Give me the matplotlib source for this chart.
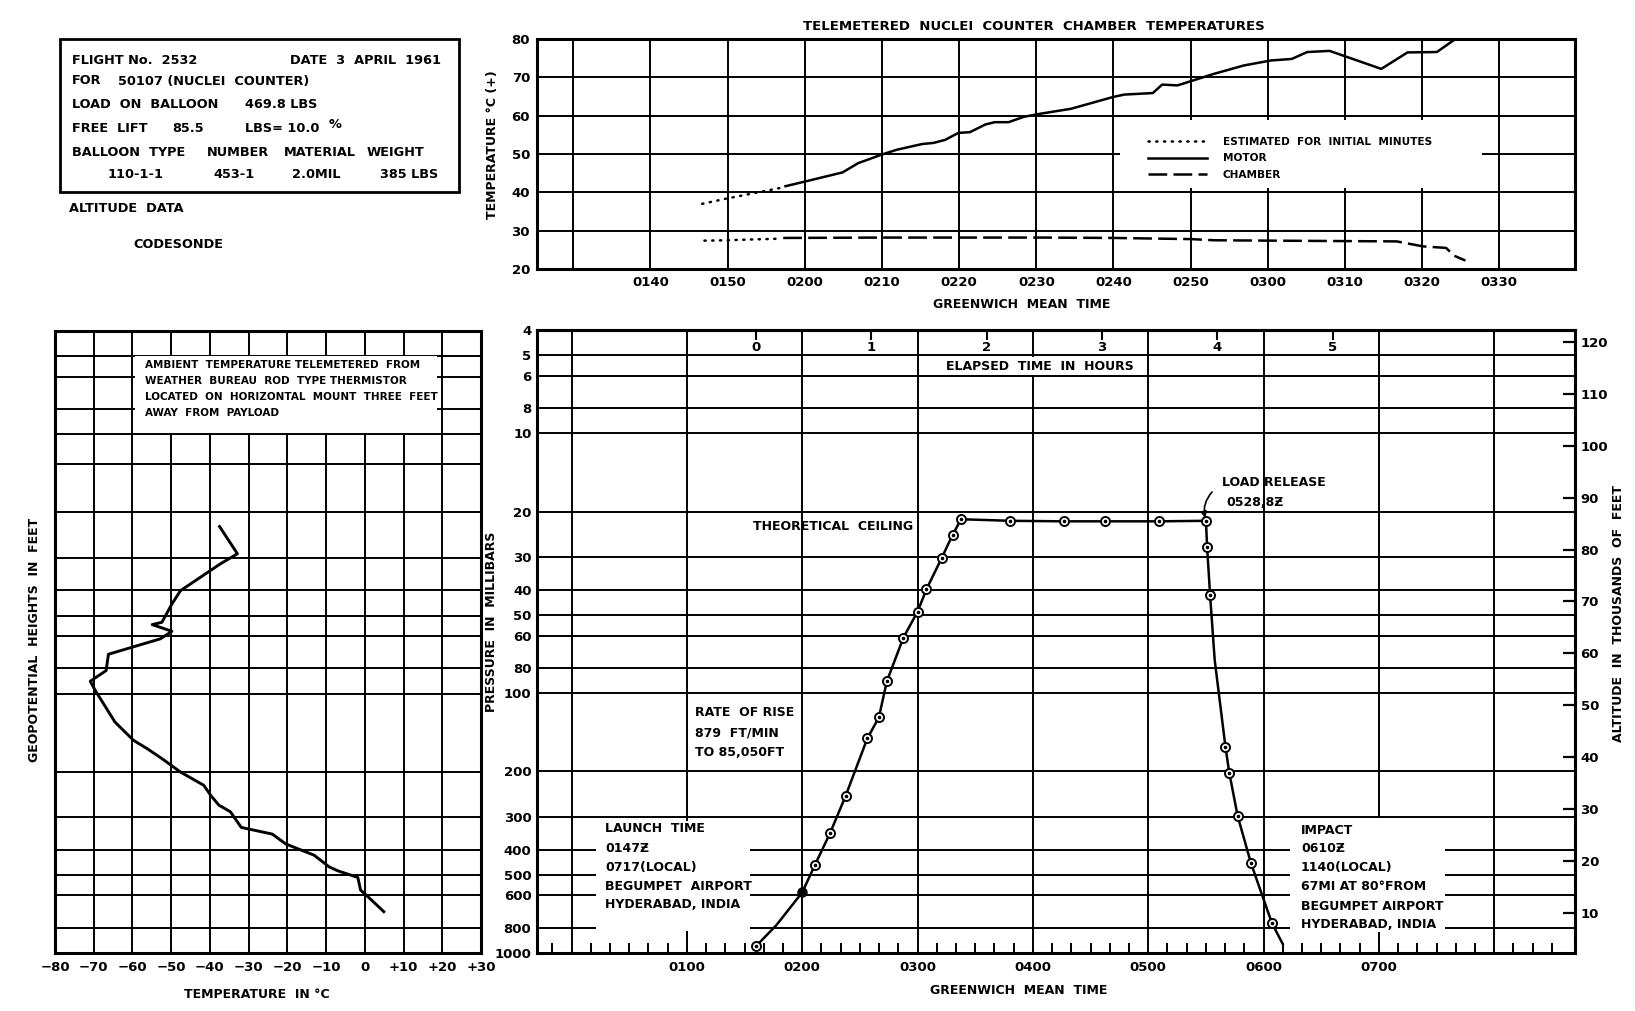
import matplotlib
matplotlib.use("Agg")
import matplotlib.pyplot as plt
from matplotlib.patches import Rectangle
from matplotlib.ticker import FixedLocator, FixedFormatter, NullLocator
import numpy as np

W, H = 1635, 1011
plt.rcParams['font.family'] = ['DejaVu Sans']
plt.rcParams['font.weight'] = 'bold'

# ---------------- data ----------------
# top chart: minutes after 00:00 GMT, temperature deg C
motor_est_t = [106.7, 109.7, 113.2, 116.7, 117.5]
motor_est_v = [37.0, 38.3, 39.7, 41.1, 41.6]
motor_t = [117.5, 120.2, 124.9, 126.9, 129.9, 131.9, 135.2, 136.7, 138.2, 139.9, 141.4,
           143.4, 144.6, 146.4, 148.4, 150.2, 154.5, 160.0, 161.4, 165.1, 166.3, 168.3,
           173.0, 176.9, 180.4, 183.1, 185.1, 188.0, 194.7, 198.1, 201.9, 204.8]
motor_v = [41.6, 42.9, 45.2, 47.6, 49.8, 51.1, 52.6, 52.9, 53.7, 55.5, 55.7,
           57.7, 58.3, 58.3, 59.7, 60.4, 61.8, 64.9, 65.5, 65.9, 68.1, 67.9,
           70.9, 73.1, 74.4, 74.8, 76.6, 76.9, 72.2, 76.5, 76.6, 80.7]
chamber_est_t = [107.0, 110.0, 113.0, 116.7]
chamber_est_v = [27.4, 27.5, 27.7, 27.9]
chamber_t = [117.2, 130.0, 150.8, 160.0, 170.0, 173.0, 180.0, 196.7, 200.1, 203.1, 204.1, 205.6]
chamber_v = [28.1, 28.2, 28.2, 28.1, 27.8, 27.5, 27.4, 27.2, 25.9, 25.5, 23.5, 22.2]
top_grid_minutes = [90, 100, 110, 120, 130, 140, 150, 160, 170, 180, 190, 200, 210]
top_tick_labels = ["", "0140", "0150", "0200", "0210", "0220", "0230", "0240",
                   "0250", "0300", "0310", "0320", "0330"]
top_yticks = [20, 30, 40, 50, 60, 70, 80]

# left chart: ambient temperature profile (deg C vs pressure mb)
amb_temp = [-37.5, -32.9, -37.3, -47.6, -49.8, -52.4, -54.9, -49.8, -52.8, -66.2, -66.8,
            -70.9, -69.6, -64.5, -59.7, -56.2, -52.4, -47.6, -41.6, -39.8, -37.7, -34.7,
            -31.9, -23.9, -20.4, -13.1, -9.2, -7.0, -1.8, -1.1, 0.8, 4.9]
amb_pres = [22.7, 28.9, 31.6, 40.1, 45.1, 53.1, 54.2, 57.5, 61.5, 70.5, 81.5,
            89.6, 97.3, 128.8, 151.5, 163, 178, 200.6, 225.6, 246.6, 269, 285.6,
            328, 348, 380, 419.6, 465.6, 482, 511.4, 572, 606.5, 693]
temp_ticks = [-80, -70, -60, -50, -40, -30, -20, -10, 0, 10, 20, 30]
temp_labels = ["\u221280", "\u221270", "\u221260", "\u221250", "\u221240", "\u221230",
               "\u221220", "\u221210", "0", "+10", "+20", "+30"]
left_levels = [4, 5, 6, 8, 10, 13, 20, 30, 40, 50, 60, 80, 100, 200, 300, 400, 500, 600, 800, 1000]

# main chart: flight profile (GMT hours, pressure mb)
pres_ticks = [4, 5, 6, 8, 10, 20, 30, 40, 50, 60, 80, 100, 200, 300, 400, 500, 600, 800, 1000]
pres_labels = [str(p) for p in pres_ticks]
obs_time = [1.60, 2.110, 2.243, 2.375, 2.565, 2.664, 2.734, 2.877, 3.0, 3.077, 3.21,
            3.303, 3.377, 3.8, 4.266, 4.628, 5.089, 5.50, 5.51, 5.536, 5.669, 5.702,
            5.775, 5.891, 6.073]
obs_pres = [940, 458, 344, 249, 149, 124, 89.8, 61.1, 48.5, 39.8, 30.1,
            24.6, 21.4, 21.7, 21.8, 21.8, 21.8, 21.7, 27.3, 41.9, 160.6, 202,
            297, 452, 769]
fix_time = [2.0]
fix_pres = [584]
path_time = [1.60, 1.777, 2.0, 2.110, 2.243, 2.375, 2.565, 2.664, 2.734, 2.877, 3.0, 3.077,
             3.21, 3.303, 3.377, 3.8, 4.266, 4.628, 5.089, 5.50, 5.51, 5.536, 5.576, 5.669,
             5.702, 5.775, 5.891, 6.073, 6.166]
path_pres = [940, 780, 584, 458, 344, 249, 149, 124, 89.8, 61.1, 48.5, 39.8,
             30.1, 24.6, 21.4, 21.7, 21.8, 21.8, 21.8, 21.7, 27.3, 41.9, 74.5, 160.6,
             202, 297, 452, 769, 923]
gmt_hours = [0, 1, 2, 3, 4, 5, 6, 7, 8]
gmt_labels = ["", "0100", "0200", "0300", "0400", "0500", "0600", "0700", ""]
elapsed_ticks = [0, 1, 2, 3, 4, 5]
elapsed_offset = 1.60
alt_ticks = [10, 20, 30, 40, 50, 60, 70, 80, 90, 100, 110, 120]

# ---------------- helpers ----------------
fig = plt.figure(figsize=(W / 100, H / 100), dpi=100)


def P(x, y):
    return (x / W, 1 - y / H)


def box(x0, y0, x1, y1):
    return [x0 / W, 1 - y1 / H, (x1 - x0) / W, (y1 - y0) / H]


def ftext(x, y, s, size=8.5, ha='left', va='center', rot=0, bg=False, **kw):
    bb = dict(facecolor='white', edgecolor='none', pad=1.5) if bg else None
    return fig.text(*P(x, y), s, fontsize=size, ha=ha, va=va, rotation=rot,
                    fontweight='bold', bbox=bb, zorder=6, **kw)


def white_rect(ax, x0, y0, x1, y1):
    r = Rectangle(P(x0, y1), (x1 - x0) / W, (y1 - y0) / H, transform=fig.transFigure,
                  facecolor='white', edgecolor='none', zorder=2.5, clip_on=False)
    ax.add_patch(r)


GRID = dict(color='black', lw=1.4)
SPINE = 2.2
LW = 1.8

# ---------------- info box ----------------
fig.add_artist(Rectangle(P(60, 192), 399 / W, 153 / H, transform=fig.transFigure,
                         fill=False, lw=2, edgecolor='black'))
IS = 9.3
ftext(72, 61, "FLIGHT No.  2532", IS)
ftext(290, 61, "DATE  3  APRIL  1961", IS)
ftext(72, 81, "FOR", IS)
ftext(118, 81, "50107 (NUCLEI  COUNTER)", IS)
ftext(72, 105, "LOAD  ON  BALLOON", IS)
ftext(245, 105, "469.8 LBS", IS)
ftext(72, 129, "FREE  LIFT", IS)
ftext(172, 129, "85.5", IS)
ftext(245, 129, "LBS= 10.0", IS)
ftext(329, 124, "%", IS)
ftext(72, 152, "BALLOON  TYPE", IS)
ftext(207, 152, "NUMBER", IS)
ftext(284, 152, "MATERIAL", IS)
ftext(367, 152, "WEIGHT", IS)
ftext(108, 174, "110-1-1", IS)
ftext(213, 174, "453-1", IS)
ftext(292, 174, "2.0MIL", IS)
ftext(380, 174, "385 LBS", IS)
ftext(69, 208, "ALTITUDE  DATA", IS)
ftext(133, 245, "CODESONDE", IS)

# ---------------- top chart ----------------
axt = fig.add_axes(box(537, 39, 1575, 269))
axt.plot(motor_est_t, motor_est_v, color='black', lw=LW, ls=(0, (0.5, 2.6)),
         dash_capstyle='round', label="ESTIMATED  FOR  INITIAL  MINUTES", zorder=4)
axt.plot(motor_t, motor_v, color='black', lw=LW, label="MOTOR", zorder=4)
axt.plot(chamber_est_t, chamber_est_v, color='black', lw=LW, ls=(0, (0.5, 2.6)),
         dash_capstyle='round', zorder=4)
axt.plot(chamber_t, chamber_v, color='black', lw=LW, ls=(0, (7.5, 2.5)),
         label="CHAMBER", zorder=4)
axt.set_xlim(85.3, 219.8)
axt.set_ylim(20, 80)
axt.xaxis.set_major_locator(FixedLocator(top_grid_minutes))
axt.xaxis.set_major_formatter(FixedFormatter(top_tick_labels))
axt.set_yticks(top_yticks)
axt.tick_params(length=0, labelsize=9.5, pad=5)
axt.grid(True, **GRID)
for s in axt.spines.values():
    s.set_linewidth(SPINE)
white_rect(axt, 1120, 120, 1482, 188)
leg = axt.legend(loc='upper left', bbox_to_anchor=((1148 - 537) / 1038, (269 - 137) / 230),
                 frameon=False, fontsize=7.6, handlelength=5.6, handletextpad=1.5,
                 labelspacing=0.6, borderpad=0, borderaxespad=0)
leg.set_zorder(6)
ftext(1034, 26, "TELEMETERED  NUCLEI  COUNTER  CHAMBER  TEMPERATURES", 9.5, ha='center')
ftext(1022, 304, "GREENWICH  MEAN  TIME", 9, ha='center')
ftext(492, 145, "TEMPERATURE \u00b0C (+)", 9, ha='center', rot=90)

# ---------------- left chart ----------------
axl = fig.add_axes(box(55, 331, 481, 953))
axl.plot(amb_temp, amb_pres, color='black', lw=LW + 0.3, zorder=4)
axl.set_yscale('log')
axl.set_ylim(1000, 4)
axl.set_xlim(-80, 30)
axl.yaxis.set_major_locator(FixedLocator(left_levels))
axl.yaxis.set_minor_locator(NullLocator())
axl.set_yticklabels([])
axl.xaxis.set_major_locator(FixedLocator(temp_ticks))
axl.xaxis.set_major_formatter(FixedFormatter(temp_labels))
axl.tick_params(length=0, labelsize=9.5, pad=6)
axl.tick_params(axis='y', which='both', length=0, labelleft=False)
axl.grid(True, **GRID)
for s in axl.spines.values():
    s.set_linewidth(SPINE)
white_rect(axl, 135, 356, 437, 433)
for i, line in enumerate(["AMBIENT  TEMPERATURE TELEMETERED  FROM",
                          "WEATHER  BUREAU  ROD  TYPE THERMISTOR",
                          "LOCATED  ON  HORIZONTAL  MOUNT  THREE  FEET",
                          "AWAY  FROM  PAYLOAD"]):
    ftext(145, 365 + i * 16, line, 7.5)
ftext(257, 994, "TEMPERATURE  IN \u00b0C", 9, ha='center')
ftext(34, 640, "GEOPOTENTIAL  HEIGHTS  IN  FEET", 9, ha='center', rot=90)

# ---------------- main chart ----------------
ax = fig.add_axes(box(537, 330, 1575, 953))
ax.plot(path_time, path_pres, color='black', lw=LW, zorder=4)
ax.plot(obs_time, obs_pres, ls='none', marker='o', ms=6.5, mfc='white', mec='black',
        mew=1.4, zorder=5)
ax.plot(obs_time, obs_pres, ls='none', marker='o', ms=1.6, color='black', zorder=5)
ax.plot(fix_time, fix_pres, ls='none', marker='o', ms=6.5, color='black', zorder=5)
ax.set_yscale('log')
ax.set_ylim(1000, 4)
ax.set_xlim(-0.30, 8.70)
ax.yaxis.set_major_locator(FixedLocator(pres_ticks))
ax.yaxis.set_major_formatter(FixedFormatter(pres_labels))
ax.yaxis.set_minor_locator(NullLocator())
ax.xaxis.set_major_locator(FixedLocator(gmt_hours))
ax.xaxis.set_major_formatter(FixedFormatter(gmt_labels))
ax.xaxis.set_minor_locator(FixedLocator(np.arange(-1, 52) / 6.0))
ax.tick_params(which='major', length=0, labelsize=9.5, pad=6)
ax.tick_params(axis='y', pad=4)
ax.tick_params(axis='x', which='minor', direction='in', length=7, width=1.4, top=False)
ax.grid(True, which='major', **GRID)
for s in ax.spines.values():
    s.set_linewidth(SPINE)

sec = ax.secondary_xaxis('top', functions=(lambda h: h - elapsed_offset,
                                           lambda e: e + elapsed_offset))
sec.set_xticks(elapsed_ticks)
sec.tick_params(direction='in', length=7, width=1.5, pad=-17, labelsize=9.5)
sec.spines['top'].set_linewidth(SPINE)

ax2 = ax.twinx()
ax2.set_ylim(2.26, 122.3)
ax2.set_yticks(alt_ticks)
ax2.tick_params(direction='in', length=9, width=1.6, labelsize=9.5, pad=4)
for s in ax2.spines.values():
    s.set_visible(False)
ax2.patch.set_visible(False)

# white patches behind annotations
white_rect(ax, 596, 821, 750, 931)
white_rect(ax, 1290, 818, 1445, 932)
ftext(1040, 366, "ELAPSED  TIME  IN  HOURS", 9, ha='center', bg=True)
ftext(753, 527, "THEORETICAL  CEILING", 9)
ftext(1222, 482, "LOAD RELEASE", 9)
ftext(1226, 502, "0528,8\u01b5", 9)
ax.annotate("", xy=(obs_time[17], obs_pres[17]), xycoords='data',
            xytext=P(1214, 490), textcoords='figure fraction',
            arrowprops=dict(arrowstyle='-|>', color='black', lw=1.2,
                            connectionstyle='arc3,rad=0.3', mutation_scale=9),
            zorder=6)
for i, line in enumerate(["RATE  OF RISE", "879  FT/MIN", "TO 85,050FT"]):
    ftext(695, 712 + i * 20.5, line, 9)
for i, line in enumerate(["LAUNCH  TIME", "0147\u01b5", "0717(LOCAL)",
                          "BEGUMPET  AIRPORT", "HYDERABAD, INDIA"]):
    ftext(605, 829 + i * 19, line, 9)
for yy, line in zip([831, 849, 868, 887, 906, 924],
                    ["IMPACT", "0610\u01b5", "1140(LOCAL)", "67MI AT 80\u00b0FROM",
                     "BEGUMPET AIRPORT", "HYDERABAD, INDIA"]):
    ftext(1301, yy, line, 9)

ftext(1019, 991, "GREENWICH  MEAN  TIME", 9, ha='center')
ftext(491, 622, "PRESSURE  IN  MILLIBARS", 9, ha='center', rot=90)
ftext(1618, 614, "ALTITUDE  IN  THOUSANDS  OF  FEET", 9, ha='center', rot=90)

fig.savefig("out.png", dpi=100, facecolor='white')
